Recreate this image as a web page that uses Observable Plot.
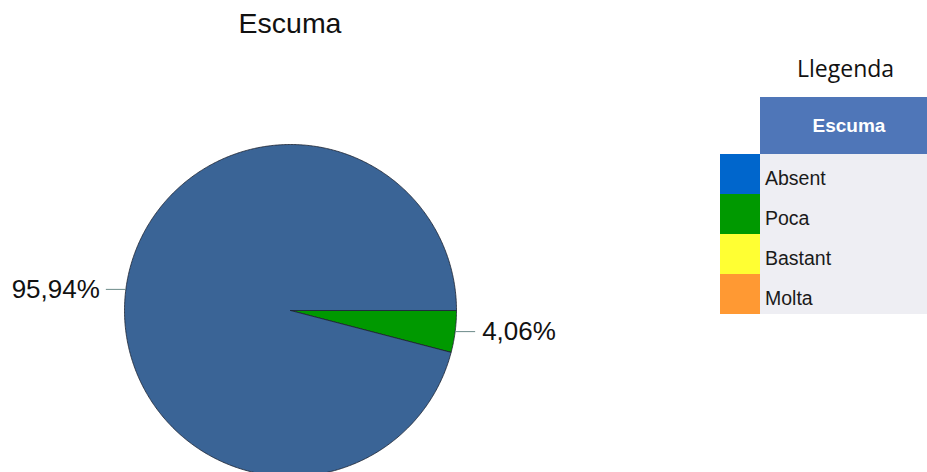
<!DOCTYPE html>
<html>
<head>
<meta charset="utf-8">
<script src="https://cdn.jsdelivr.net/npm/d3@7"></script>
<script src="https://cdn.jsdelivr.net/npm/@observablehq/plot@0.6"></script>
<style>
  html, body { margin: 0; padding: 0; background: #fff; overflow: hidden; }
  #wrap { position: relative; width: 927px; height: 472px; overflow: hidden; }
  #title { position: absolute; left: 0; width: 580px; top: 7px; text-align: center;
    font-family: "Liberation Sans", Arial, sans-serif; font-size: 28.5px; color: #111; }
  #legend { position: absolute; left: 720px; top: 50px; width: 240px; }
  #legend .lt { position: absolute; left: 77px; top: 2px; font-family: "Open Sans", "Noto Sans", sans-serif;
    font-size: 23px; color: #111; }
  #legend table { position: absolute; left: 0; top: 47px; border-collapse: collapse;
    font-family: "Liberation Sans", Arial, sans-serif; }
  #legend td { padding: 0; margin: 0; }
  #legend .hdr { background: #4f76b8; color: #fff; font-weight: bold; font-size: 19px;
    height: 57px; width: 178px; text-align: center; vertical-align: middle; }
  #legend .sw { width: 40px; height: 40px; }
  #legend .lab { background: #eeeef3; color: #1a1a1a; font-size: 19.5px; padding-left: 5px;
    vertical-align: bottom; padding-bottom: 4px; box-sizing: border-box; height: 40px; }
</style>
</head>
<body>
<div id="wrap">
  <div id="chart"></div>
  <div id="title">Escuma</div>
  <div id="legend"></div>
</div>
<script>
// ---- data ----
const categories = ["Poca", "Absent"];
const values = [4.06, 95.94];
const sliceColors = ["#009900", "#3a6496"];
const legendCategories = ["Absent", "Poca", "Bastant", "Molta"];
const legendColors = ["#0066cc", "#009900", "#ffff33", "#ff9933"];
const chartTitle = "Escuma";
const legendTitle = "Llegenda";

// ---- geometry from data (angles clockwise from 3 o'clock) ----
const total = d3.sum(values);
let acc = 0;
const slices = values.map((v, i) => {
  const a0 = acc / total * 2 * Math.PI;
  acc += v;
  const a1 = acc / total * 2 * Math.PI;
  return {cat: categories[i], value: v, a0, a1, mid: (a0 + a1) / 2, color: sliceColors[i]};
});
const poly = [];
for (const s of slices) {
  poly.push({cat: s.cat, x: 0, y: 0});
  const n = Math.max(2, Math.ceil((s.a1 - s.a0) / (Math.PI / 360)));
  for (let k = 0; k <= n; k++) {
    const a = s.a0 + (s.a1 - s.a0) * k / n;
    poly.push({cat: s.cat, x: Math.cos(a), y: -Math.sin(a)});
  }
  poly.push({cat: s.cat, x: 0, y: 0});
}
const leaderLen = 20 / 166;
const labels = slices.map(s => {
  const x = Math.cos(s.mid), y = -Math.sin(s.mid);
  const dir = x >= 0 ? 1 : -1;
  return {x1: x, y1: y, x2: x + dir * leaderLen, y2: y, dir,
    text: s.value.toFixed(2).replace(".", ",") + "%"};
});

const colorMap = new Map(slices.map(s => [s.cat, s.color]));

const chart = Plot.plot({
  width: 927,
  height: 472,
  margin: 0,
  x: {domain: [-1, 1], range: [124, 456], axis: null},
  y: {domain: [-1, 1], range: [476, 144], axis: null},
  marks: [
    Plot.line(poly, {x: "x", y: "y", z: "cat", fill: d => colorMap.get(d.cat),
      stroke: "#1c2230", strokeWidth: 0.8, curve: "linear"}),
    Plot.link(labels, {x1: "x1", y1: "y1", x2: "x2", y2: "y2", stroke: "#6b8a88", strokeWidth: 1}),
    Plot.text(labels.filter(d => d.dir > 0), {x: "x2", y: "y2", text: "text", textAnchor: "start", dx: 7,
      fontSize: 26, fill: "#111", fontFamily: "Liberation Sans, Arial, sans-serif"}),
    Plot.text(labels.filter(d => d.dir < 0), {x: "x2", y: "y2", text: "text", textAnchor: "end", dx: -6,
      fontSize: 26, fill: "#111", fontFamily: "Liberation Sans, Arial, sans-serif"})
  ]
});
document.getElementById("chart").appendChild(chart);
document.getElementById("title").textContent = chartTitle;

// ---- legend ----
const lg = document.getElementById("legend");
const lt = document.createElement("div");
lt.className = "lt"; lt.textContent = legendTitle;
lg.appendChild(lt);
const table = document.createElement("table");
const hr = table.insertRow();
hr.insertCell().style.width = "40px";
const hc = hr.insertCell(); hc.className = "hdr"; hc.textContent = chartTitle;
legendCategories.forEach((c, i) => {
  const r = table.insertRow();
  const sw = r.insertCell(); sw.className = "sw"; sw.style.background = legendColors[i];
  const lb = r.insertCell(); lb.className = "lab"; lb.textContent = c;
});
lg.appendChild(table);
</script>
</body>
</html>
